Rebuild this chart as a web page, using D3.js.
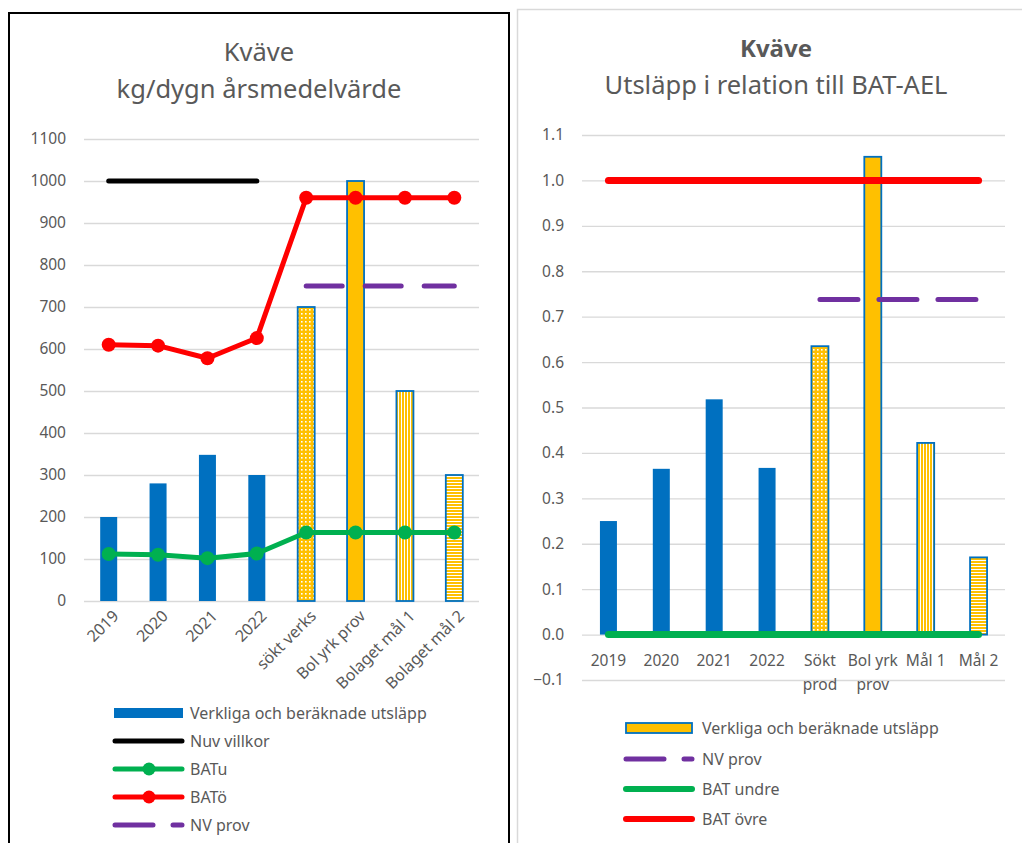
<!DOCTYPE html>
<html><head><meta charset="utf-8">
<script src="https://cdn.jsdelivr.net/npm/d3@7"></script>
<style>
body{margin:0;background:#fff;}
svg{display:block;font-family:"Noto Sans",sans-serif;}
</style></head><body>
<svg id="c" width="1022" height="843"></svg>
<script>
// ---- Left chart data ----
const leftCategories = ["2019","2020","2021","2022","sökt verks","Bol yrk prov","Bolaget mål 1","Bolaget mål 2"];
const leftEmissions = [200, 280, 348, 300, 700, 1000, 500, 300];
const leftNuvVillkor = [1000, 1000, 1000, 1000, null, null, null, null];
const leftBATu = [112, 110, 102, 113, 163, 163, 163, 163];
const leftBATo = [610, 608, 578, 626, 960, 960, 960, 960];
const leftNVprov = [null, null, null, null, 750, 750, 750, 750];
const leftTicks = [0,100,200,300,400,500,600,700,800,900,1000,1100];

// ---- Right chart data ----
const rightCategories = [["2019"],["2020"],["2021"],["2022"],["Sökt","prod"],["Bol yrk","prov"],["Mål 1"],["Mål 2"]];
const rightRatio = [0.25, 0.365, 0.518, 0.367, 0.635, 1.052, 0.422, 0.17];
const rightBATundre = [0,0,0,0,0,0,0,0];
const rightBATovre = [1,1,1,1,1,1,1,1];
const rightNVprov = [null, null, null, null, 0.738, 0.738, 0.738, 0.738];
const rightTicks = [-0.1,0,0.1,0.2,0.3,0.4,0.5,0.6,0.7,0.8,0.9,1.0,1.1];

// fill styles per bar index (0-3 solid blue, 4 dotted, 5 solid yellow, 6 vertical, 7 horizontal)
const barFills = ["blue","blue","blue","blue","url(#pDots)","#FFC000","url(#pVert)","url(#pHor)"];

const svg = d3.select("#c");
const TXT = "#595959", GRID = "#d9d9d9";
const BLUE="#0070C0", YEL="#FFC000", RED="#FF0000", GRN="#00B050", PUR="#7030A0";

// patterns
const defs = svg.append("defs");
const pd = defs.append("pattern").attr("id","pDots").attr("patternUnits","userSpaceOnUse").attr("width",4).attr("height",4);
pd.append("rect").attr("width",4).attr("height",4).attr("fill",YEL);
pd.append("rect").attr("x",1).attr("y",1).attr("width",1.6).attr("height",1.6).attr("fill","#fff");
const pv = defs.append("pattern").attr("id","pVert").attr("patternUnits","userSpaceOnUse").attr("width",3).attr("height",3);
pv.append("rect").attr("width",3).attr("height",3).attr("fill",YEL);
pv.append("rect").attr("x",2).attr("width",1).attr("height",3).attr("fill","#fff");
const ph = defs.append("pattern").attr("id","pHor").attr("patternUnits","userSpaceOnUse").attr("width",3).attr("height",3);
ph.append("rect").attr("width",3).attr("height",3).attr("fill",YEL);
ph.append("rect").attr("y",2).attr("width",3).attr("height",1).attr("fill","#fff");

// frames
svg.append("rect").attr("x",9).attr("y",13).attr("width",500).attr("height",850).attr("fill","none").attr("stroke","#000").attr("stroke-width",2);
svg.append("rect").attr("x",517.5).attr("y",9.5).attr("width",520).attr("height",850).attr("fill","none").attr("stroke",GRID).attr("stroke-width",1.5);

// ================= LEFT CHART =================
{
  const x = d3.scaleBand().domain(leftCategories).range([84,479]);
  const y = d3.scaleLinear().domain([0,1100]).range([601,139]);
  const cx = c => x(c) + x.bandwidth()/2;
  const g = svg.append("g");
  // title
  g.append("text").attr("x",259).attr("y",61).attr("text-anchor","middle").attr("font-size",25.5).attr("fill",TXT).text("Kväve");
  g.append("text").attr("x",259).attr("y",98).attr("text-anchor","middle").attr("font-size",25.5).attr("fill",TXT).text("kg/dygn årsmedelvärde");
  // grid + y axis
  const ya = g.append("g").attr("transform","translate(84,0)")
    .call(d3.axisLeft(y).tickValues(leftTicks).tickSize(-395).tickPadding(18).tickFormat(d3.format("d")));
  ya.select(".domain").remove();
  ya.selectAll("line").attr("stroke",GRID).attr("stroke-width",1.3);
  ya.selectAll("text").attr("fill",TXT).attr("font-size",15.5).attr("font-family","Noto Sans");
  // bars
  const bw = 17;
  g.selectAll("rect.bar").data(leftEmissions).join("rect")
    .attr("x",(d,i)=>cx(leftCategories[i])-bw/2).attr("width",bw)
    .attr("y",d=>y(d)).attr("height",d=>y(0)-y(d))
    .attr("fill",(d,i)=>barFills[i]==="blue"?BLUE:barFills[i])
    .attr("stroke",(d,i)=>i<4?"none":BLUE).attr("stroke-width",1.8);
  // x labels
  g.selectAll("text.xl").data(leftCategories).join("text")
    .attr("transform",c=>`translate(${cx(c)+7},${613}) rotate(-45)`)
    .attr("text-anchor","end").attr("dy","0.35em").attr("font-size",16).attr("fill",TXT).text(c=>c);
  // lines
  const line = d3.line().defined(d=>d[1]!=null).x(d=>cx(d[0])).y(d=>y(d[1]));
  const mk = arr => arr.map((v,i)=>[leftCategories[i],v]);
  g.append("path").attr("d",line(mk(leftNuvVillkor))).attr("fill","none").attr("stroke","#000").attr("stroke-width",5).attr("stroke-linecap","round");
  g.append("path").attr("d",line(mk(leftNVprov))).attr("fill","none").attr("stroke",PUR).attr("stroke-width",5).attr("stroke-linecap","round").attr("stroke-dasharray","36,23");
  [[leftBATo,RED],[leftBATu,GRN]].forEach(([arr,col])=>{
    g.append("path").attr("d",line(mk(arr))).attr("fill","none").attr("stroke",col).attr("stroke-width",5).attr("stroke-linejoin","round");
    g.selectAll(null).data(mk(arr)).join("circle").attr("cx",d=>cx(d[0])).attr("cy",d=>y(d[1])).attr("r",7).attr("fill",col);
  });
  // legend
  const lg = g.append("g");
  const ly = [713,741,769,797,825];
  const ln = ["Verkliga och beräknade utsläpp","Nuv villkor","BATu","BATö","NV prov"];
  ln.forEach((t,i)=>lg.append("text").attr("x",190).attr("y",ly[i]).attr("dy","0.35em").attr("font-size",16).attr("fill",TXT).text(t));
  lg.append("rect").attr("x",114).attr("y",ly[0]-5).attr("width",69).attr("height",10).attr("fill",BLUE);
  lg.append("line").attr("x1",115).attr("x2",182).attr("y1",ly[1]).attr("y2",ly[1]).attr("stroke","#000").attr("stroke-width",5).attr("stroke-linecap","round");
  [[2,GRN],[3,RED]].forEach(([i,col])=>{
    lg.append("line").attr("x1",115).attr("x2",182).attr("y1",ly[i]).attr("y2",ly[i]).attr("stroke",col).attr("stroke-width",5).attr("stroke-linecap","round");
    lg.append("circle").attr("cx",149).attr("cy",ly[i]).attr("r",6.5).attr("fill",col);
  });
  lg.append("line").attr("x1",115).attr("x2",182).attr("y1",ly[4]).attr("y2",ly[4]).attr("stroke",PUR).attr("stroke-width",5).attr("stroke-linecap","round").attr("stroke-dasharray","38,20");
}

// ================= RIGHT CHART =================
{
  const x = d3.scaleBand().domain(d3.range(rightCategories.length)).range([582,1005]);
  const y = d3.scaleLinear().domain([-0.1,1.1]).range([680,135]);
  const cx = i => x(i) + x.bandwidth()/2;
  const g = svg.append("g");
  g.append("text").attr("x",776).attr("y",57).attr("text-anchor","middle").attr("font-size",24).attr("font-weight","bold").attr("fill",TXT).text("Kväve");
  g.append("text").attr("x",776).attr("y",94).attr("text-anchor","middle").attr("font-size",25.5).attr("fill",TXT).text("Utsläpp i relation till BAT-AEL");
  const ya = g.append("g").attr("transform","translate(582,0)")
    .call(d3.axisLeft(y).tickValues(rightTicks).tickSize(-423).tickPadding(18).tickFormat(d3.format(".1f")));
  ya.select(".domain").remove();
  ya.selectAll("line").attr("stroke",GRID).attr("stroke-width",1.3);
  ya.selectAll("text").attr("fill",TXT).attr("font-size",15.5).attr("font-family","Noto Sans");
  const bw = 17;
  g.selectAll("rect.bar").data(rightRatio).join("rect")
    .attr("x",(d,i)=>cx(i)-bw/2).attr("width",bw)
    .attr("y",d=>y(d)).attr("height",d=>y(0)-y(d))
    .attr("fill",(d,i)=>barFills[i]==="blue"?BLUE:barFills[i])
    .attr("stroke",(d,i)=>i<4?"none":BLUE).attr("stroke-width",1.8);
  // x labels
  rightCategories.forEach((lines,i)=>{
    const t = g.append("text").attr("x",cx(i)).attr("y",666).attr("text-anchor","middle").attr("font-size",15.5).attr("fill",TXT);
    lines.forEach((s,k)=>t.append("tspan").attr("x",cx(i)).attr("dy",k?24:0).text(s));
  });
  const line = d3.line().defined(d=>d[1]!=null).x(d=>cx(d[0])).y(d=>y(d[1]));
  const mk = arr => arr.map((v,i)=>[i,v]);
  g.append("path").attr("d",line(mk(rightNVprov))).attr("fill","none").attr("stroke",PUR).attr("stroke-width",5).attr("stroke-linecap","round").attr("stroke-dasharray","38,21");
  g.append("path").attr("d",line(mk(rightBATundre))).attr("fill","none").attr("stroke",GRN).attr("stroke-width",7).attr("stroke-linecap","round");
  g.append("path").attr("d",line(mk(rightBATovre))).attr("fill","none").attr("stroke",RED).attr("stroke-width",7).attr("stroke-linecap","round");
  // legend
  const lg = g.append("g");
  const ly = [728,759,789,819];
  const ln = ["Verkliga och beräknade utsläpp","NV prov","BAT undre","BAT övre"];
  ln.forEach((t,i)=>lg.append("text").attr("x",702).attr("y",ly[i]).attr("dy","0.35em").attr("font-size",16).attr("fill",TXT).text(t));
  lg.append("rect").attr("x",626).attr("y",ly[0]-5).attr("width",66).attr("height",10).attr("fill",YEL).attr("stroke",BLUE).attr("stroke-width",1.8);
  lg.append("line").attr("x1",626).attr("x2",692).attr("y1",ly[1]).attr("y2",ly[1]).attr("stroke",PUR).attr("stroke-width",5).attr("stroke-linecap","round").attr("stroke-dasharray","38,20");
  lg.append("line").attr("x1",626).attr("x2",692).attr("y1",ly[2]).attr("y2",ly[2]).attr("stroke",GRN).attr("stroke-width",6).attr("stroke-linecap","round");
  lg.append("line").attr("x1",626).attr("x2",692).attr("y1",ly[3]).attr("y2",ly[3]).attr("stroke",RED).attr("stroke-width",6).attr("stroke-linecap","round");
}
</script>
</body></html>
